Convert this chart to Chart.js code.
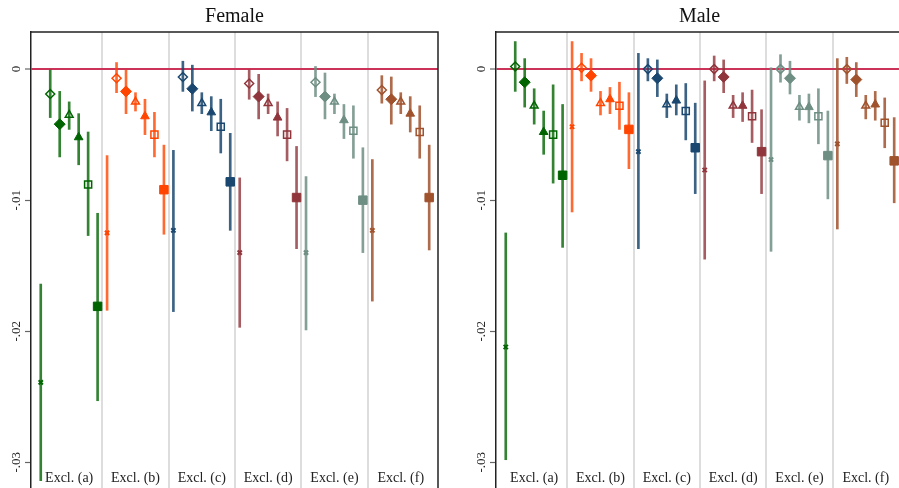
<!DOCTYPE html>
<html>
<head>
<meta charset="utf-8">
<script src="https://cdn.jsdelivr.net/npm/chart.js@4.4.1/dist/chart.umd.min.js"></script>
<style>
  html, body { margin: 0; padding: 0; background: #fff; overflow: hidden; width: 899px; height: 488px; }
  .panel { position: absolute; top: 0; width: 445px; height: 508px; }
  #female { left: 0; }
  #male { left: 465px; }
</style>
</head>
<body>
<div class="panel" id="female"><canvas id="femaleChart"></canvas></div>
<div class="panel" id="male"><canvas id="maleChart"></canvas></div>
<script>
// groups and tick labels
const groupLabels = ['Excl. (a)', 'Excl. (b)', 'Excl. (c)', 'Excl. (d)', 'Excl. (e)', 'Excl. (f)'];
const yTickValues = [0, -0.01, -0.02, -0.03];
const yTickLabels = ['0', '-.01', '-.02', '-.03'];
// order inside each group: x, hollow diamond, diamond, hollow triangle, triangle, hollow square, square

// Female
const femaleEst = [
  [-0.0239, -0.0019, -0.0042, -0.0035, -0.0052, -0.0088, -0.0181],
  [-0.0125, -0.0007, -0.0017, -0.0025, -0.0036, -0.0050, -0.0092],
  [-0.0123, -0.0006, -0.0015, -0.0026, -0.0033, -0.0044, -0.0086],
  [-0.0140, -0.0011, -0.0021, -0.0026, -0.0037, -0.0050, -0.0098],
  [-0.0140, -0.0010, -0.0021, -0.0025, -0.0039, -0.0047, -0.0100],
  [-0.0123, -0.0016, -0.0023, -0.0025, -0.0034, -0.0048, -0.0098]
];
const femaleLo = [
  [-0.0314, -0.0037, -0.0067, -0.0046, -0.0073, -0.0127, -0.0253],
  [-0.0184, -0.0018, -0.0034, -0.0032, -0.0050, -0.0067, -0.0126],
  [-0.0185, -0.0017, -0.0032, -0.0034, -0.0047, -0.0064, -0.0123],
  [-0.0197, -0.0023, -0.0038, -0.0034, -0.0051, -0.0070, -0.0137],
  [-0.0199, -0.0021, -0.0038, -0.0034, -0.0053, -0.0068, -0.0140],
  [-0.0177, -0.0026, -0.0042, -0.0034, -0.0048, -0.0068, -0.0138]
];
const femaleHi = [
  [-0.0164, 0.0000, -0.0017, -0.0025, -0.0034, -0.0048, -0.0110],
  [-0.0066, 0.0005, 0.0000, -0.0018, -0.0023, -0.0033, -0.0058],
  [-0.0062, 0.0006, 0.0003, -0.0018, -0.0021, -0.0023, -0.0049],
  [-0.0083, 0.0000, -0.0004, -0.0019, -0.0025, -0.0030, -0.0059],
  [-0.0082, 0.0002, -0.0003, -0.0019, -0.0027, -0.0028, -0.0060],
  [-0.0069, -0.0005, -0.0006, -0.0018, -0.0021, -0.0028, -0.0058]
];

// Male
const maleEst = [
  [-0.0212, 0.0002, -0.0010, -0.0028, -0.0048, -0.0050, -0.0081],
  [-0.0044, 0.0001, -0.0005, -0.0026, -0.0023, -0.0028, -0.0046],
  [-0.0063, 0.0000, -0.0007, -0.0027, -0.0024, -0.0032, -0.0060],
  [-0.0077, 0.0000, -0.0006, -0.0028, -0.0028, -0.0036, -0.0063],
  [-0.0069, 0.0000, -0.0007, -0.0029, -0.0029, -0.0036, -0.0066],
  [-0.0057, 0.0000, -0.0008, -0.0028, -0.0027, -0.0041, -0.0070]
];
const maleLo = [
  [-0.0298, -0.0017, -0.0029, -0.0042, -0.0065, -0.0087, -0.0136],
  [-0.0109, -0.0009, -0.0017, -0.0035, -0.0034, -0.0046, -0.0076],
  [-0.0137, -0.0009, -0.0021, -0.0037, -0.0035, -0.0054, -0.0095],
  [-0.0145, -0.0009, -0.0018, -0.0037, -0.0040, -0.0056, -0.0095],
  [-0.0139, -0.0010, -0.0019, -0.0039, -0.0041, -0.0057, -0.0099],
  [-0.0122, -0.0011, -0.0021, -0.0038, -0.0039, -0.0060, -0.0102]
];
const maleHi = [
  [-0.0125, 0.0021, 0.0008, -0.0015, -0.0032, -0.0012, -0.0027],
  [0.0021, 0.0012, 0.0008, -0.0017, -0.0014, -0.0010, -0.0018],
  [0.0012, 0.0008, 0.0007, -0.0019, -0.0012, -0.0011, -0.0026],
  [-0.0009, 0.0010, 0.0007, -0.0020, -0.0018, -0.0016, -0.0031],
  [0.0001, 0.0011, 0.0006, -0.0020, -0.0019, -0.0015, -0.0032],
  [0.0008, 0.0009, 0.0005, -0.0020, -0.0017, -0.0022, -0.0037]
];

const groupColors = ['#006400', '#ff4500', '#1a476f', '#90353b', '#6e8e84', '#a0522d'];
const ciColors = ['rgba(0,100,0,0.8)', 'rgba(255,69,0,0.8)', 'rgba(26,71,111,0.85)',
                  'rgba(144,53,59,0.8)', 'rgba(110,142,132,0.85)', 'rgba(160,82,45,0.85)'];
const zeroColor = '#cc3358';
const serif = '"Liberation Serif", "Times New Roman", serif';

const markers = [
  { style: 'crossRot', radius: 3, filled: false, width: 2 },
  { style: 'rectRot', radius: 4.5, filled: false, width: 1.5 },
  { style: 'rectRot', radius: 5.5, filled: true, width: 1 },
  { style: 'triangle', radius: 4.5, filled: false, width: 1.5 },
  { style: 'triangle', radius: 5, filled: true, width: 1 },
  { style: 'rect', radius: 5, filled: false, width: 1.5 },
  { style: 'rect', radius: 6, filled: true, width: 1 }
];
const perGroup = markers.length;

const panelDecor = {
  id: 'panelDecor',
  afterDraw(chart) {
    const { ctx, chartArea: a, scales: { x, y } } = chart;
    ctx.save();
    ctx.strokeStyle = '#222';
    ctx.lineWidth = 1.5;
    ctx.beginPath();
    ctx.moveTo(a.left, a.top);
    ctx.lineTo(a.right, a.top);
    ctx.lineTo(a.right, a.bottom + 10);
    ctx.stroke();

    ctx.fillStyle = '#222';
    ctx.font = '13px ' + serif;
    ctx.textAlign = 'center';
    ctx.textBaseline = 'alphabetic';
    yTickValues.forEach((v, i) => {
      ctx.save();
      ctx.translate(a.left - 11, y.getPixelForValue(v));
      ctx.rotate(-Math.PI / 2);
      ctx.fillText(yTickLabels[i], 0, 0);
      ctx.restore();
    });

    ctx.font = '14px ' + serif;
    ctx.textBaseline = 'middle';
    groupLabels.forEach((g, i) => {
      ctx.fillText(g, x.getPixelForValue(i * perGroup + (perGroup - 1) / 2), a.bottom - 23);
    });
    ctx.restore();
  }
};

function makePanel(canvasId, title, est, lo, hi) {
  const ciData = [], ciCol = [];
  est.forEach((row, g) => row.forEach((v, k) => {
    ciData.push({ x: g * perGroup + k, y: [lo[g][k], hi[g][k]] });
    ciCol.push(ciColors[g]);
  }));

  const markerSets = markers.map((m, k) => ({
    type: 'scatter',
    order: 1,
    data: est.map((row, g) => ({ x: g * perGroup + k, y: row[k] })),
    pointStyle: m.style,
    pointRadius: m.radius,
    pointHoverRadius: m.radius,
    pointBorderWidth: m.width,
    pointBorderColor: groupColors,
    pointBackgroundColor: m.filled ? groupColors : 'rgba(0,0,0,0)'
  }));

  const separators = groupLabels.slice(1).map((_, i) => (i + 1) * perGroup - 0.5);

  return new Chart(document.getElementById(canvasId), {
    type: 'scatter',
    data: {
      datasets: [
        { type: 'bar', order: 2, data: ciData, backgroundColor: ciCol, barThickness: 2, borderWidth: 0 },
        ...markerSets
      ]
    },
    options: {
      responsive: true,
      maintainAspectRatio: false,
      animation: false,
      layout: { padding: { left: 0, right: 5, top: 0, bottom: 0 } },
      plugins: {
        legend: { display: false },
        tooltip: { enabled: false },
        title: {
          display: true,
          text: title,
          fullSize: false,
          color: '#111',
          font: { family: serif, size: 20, weight: 'normal' },
          padding: { top: 5, bottom: 3 }
        }
      },
      scales: {
        x: {
          type: 'linear',
          min: -1.03,
          max: 41.93,
          offset: false,
          ticks: { display: false },
          border: { display: false },
          grid: { offset: false, color: '#dddddd', lineWidth: 2, drawTicks: false },
          afterBuildTicks: s => { s.ticks = separators.map(v => ({ value: v })); },
          afterFit: s => { s.height = 0; }
        },
        y: {
          min: -0.03295,
          max: 0.00283,
          ticks: { display: false },
          border: { display: true, color: '#222', width: 1.5 },
          grid: {
            color: c => (c.tick && c.tick.value === 0 ? zeroColor : 'rgba(0,0,0,0)'),
            lineWidth: c => (c.tick && c.tick.value === 0 ? 2 : 1),
            tickColor: '#666',
            tickLength: 6,
            tickWidth: 1.2
          },
          afterBuildTicks: s => { s.ticks = yTickValues.map(v => ({ value: v })); },
          afterFit: s => { s.width = 31; }
        }
      }
    },
    plugins: [panelDecor]
  });
}

makePanel('femaleChart', 'Female', femaleEst, femaleLo, femaleHi);
makePanel('maleChart', 'Male', maleEst, maleLo, maleHi);
</script>
</body>
</html>
